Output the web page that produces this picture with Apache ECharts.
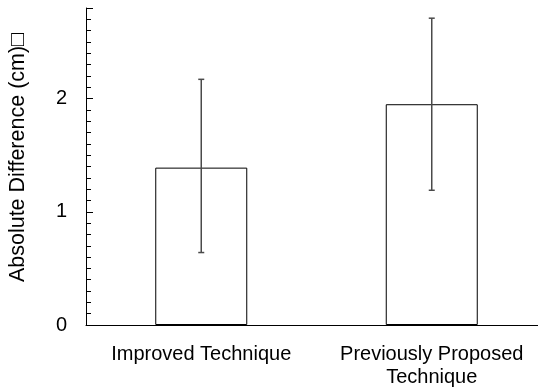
<!DOCTYPE html>
<html>
<head>
<meta charset="utf-8">
<script src="https://cdn.jsdelivr.net/npm/echarts@6/dist/echarts.min.js"></script>
<style>
  html, body { margin: 0; padding: 0; background: #fff; }
  #chart { width: 538px; height: 387px; }
</style>
</head>
<body>
<div id="chart"></div>
<script>
const categories = ["Improved Technique", "Previously Proposed\nTechnique"];
const means = [1.39, 1.95];
const errLow = [0.64, 1.19];
const errHigh = [2.17, 2.71];

const chart = echarts.init(document.getElementById("chart"));
const font = "Liberation Sans, Arial, sans-serif";

chart.setOption({
  animation: false,
  // axis runs a little past the right edge in the original
  grid: { left: 86, width: 461, top: 8, bottom: 62, outerBoundsMode: "none" },
  xAxis: {
    type: "category",
    data: categories,
    axisLine: { lineStyle: { color: "#000", width: 1 } },
    axisTick: { show: false },
    axisLabel: { color: "#000", fontFamily: font, fontSize: 20, lineHeight: 23, margin: 18, interval: 0 },
  },
  yAxis: [
    {
      type: "value",
      min: 0,
      max: 2.8,
      interval: 0.1,
      name: "Absolute Difference (cm)\u25A1",
      nameLocation: "middle",
      nameGap: 57,
      // nudged up a bit, the original title sits above the plot centre
      nameTextStyle: { color: "#000", fontFamily: font, fontSize: 21.5, padding: [0, 0, 0, 18] },
      axisLine: { show: true, lineStyle: { color: "#000", width: 1 } },
      axisTick: { show: true, inside: true, length: 5, lineStyle: { color: "#000" } },
      splitLine: { show: false },
      axisLabel: {
        color: "#000",
        fontFamily: font,
        fontSize: 20,
        margin: 19,
        formatter: (v) => (Math.abs(v - Math.round(v)) < 1e-6 ? String(Math.round(v)) : ""),
      },
    },
    {
      // longer ticks at whole numbers
      type: "value",
      position: "left",
      min: 0,
      max: 2.8,
      interval: 1,
      axisLine: { show: false },
      axisTick: { show: true, inside: true, length: 7, lineStyle: { color: "#000" } },
      axisLabel: { show: false },
      splitLine: { show: false },
    },
  ],
  series: [
    {
      type: "bar",
      data: means,
      barWidth: 92,
      itemStyle: { color: "#fff", borderColor: "#000", borderWidth: 1 },
    },
    {
      type: "custom",
      data: categories.map((c, i) => [i, errLow[i], errHigh[i]]),
      renderItem: (params, api) => {
        const lo = api.coord([api.value(0), api.value(1)]);
        const hi = api.coord([api.value(0), api.value(2)]);
        const half = 3;
        const style = { stroke: "#4a4a4a", lineWidth: 1.5 };
        return {
          type: "group",
          children: [
            { type: "line", shape: { x1: hi[0], y1: hi[1], x2: lo[0], y2: lo[1] }, style },
            { type: "line", shape: { x1: hi[0] - half, y1: hi[1], x2: hi[0] + half, y2: hi[1] }, style },
            { type: "line", shape: { x1: lo[0] - half, y1: lo[1], x2: lo[0] + half, y2: lo[1] }, style },
          ],
        };
      },
      z: 3,
    },
  ],
});
</script>
</body>
</html>
